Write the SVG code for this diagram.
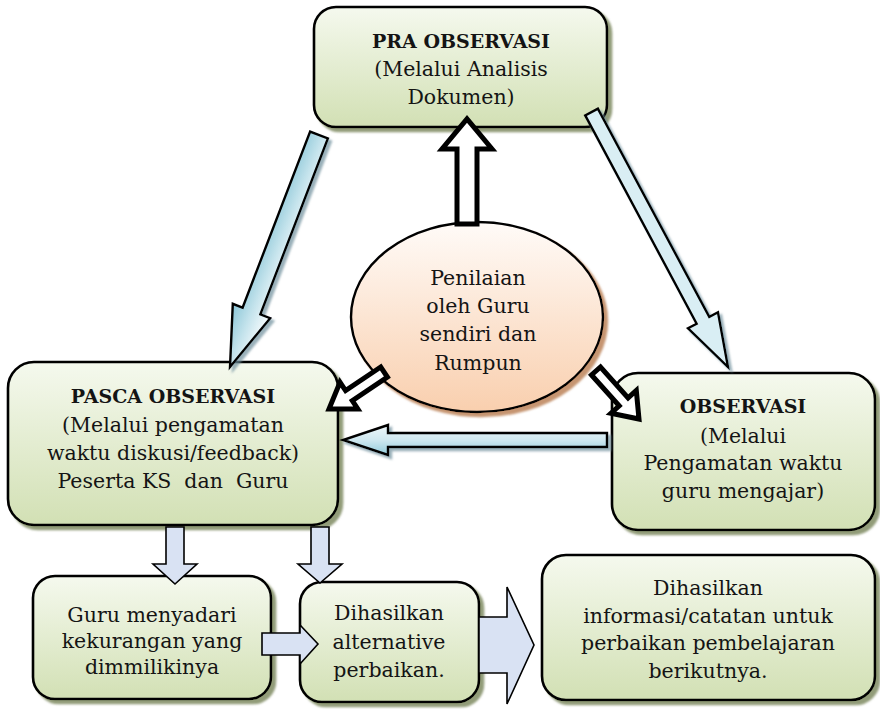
<svg xmlns="http://www.w3.org/2000/svg" width="880" height="712" viewBox="0 0 880 712">
  <defs>
    <linearGradient id="boxFill" x1="0" y1="0" x2="0" y2="1">
      <stop offset="0" stop-color="#f5f9ee"/>
      <stop offset="1" stop-color="#d2e0b4"/>
    </linearGradient>
    <linearGradient id="ovalFill" x1="0" y1="0" x2="0" y2="1">
      <stop offset="0" stop-color="#fffbf8"/>
      <stop offset="1" stop-color="#f9cfae"/>
    </linearGradient>
    <linearGradient id="blueLeft" gradientUnits="userSpaceOnUse" x1="256" y1="243" x2="293" y2="258">
      <stop offset="0" stop-color="#86c4d6"/>
      <stop offset="0.55" stop-color="#c4e3ec"/>
      <stop offset="1" stop-color="#f4fafc"/>
    </linearGradient>
    <linearGradient id="blueFlat" x1="0" y1="0" x2="0" y2="1">
      <stop offset="0" stop-color="#eef7fa"/>
      <stop offset="0.5" stop-color="#cfe8f0"/>
      <stop offset="1" stop-color="#92cbdb"/>
    </linearGradient>
    <filter id="boxShadow" x="-10%" y="-10%" width="125%" height="130%">
      <feGaussianBlur in="SourceAlpha" stdDeviation="1.2" result="b"/>
      <feOffset in="b" dx="4" dy="4" result="o"/>
      <feFlood flood-color="#7f8b62" flood-opacity="0.85"/>
      <feComposite in2="o" operator="in" result="s"/>
      <feMerge><feMergeNode in="s"/><feMergeNode in="SourceGraphic"/></feMerge>
    </filter>
    <filter id="ovalShadow" x="-10%" y="-10%" width="125%" height="130%">
      <feGaussianBlur in="SourceAlpha" stdDeviation="1.2" result="b"/>
      <feOffset in="b" dx="4" dy="4" result="o"/>
      <feFlood flood-color="#c08a62" flood-opacity="0.9"/>
      <feComposite in2="o" operator="in" result="s"/>
      <feMerge><feMergeNode in="s"/><feMergeNode in="SourceGraphic"/></feMerge>
    </filter>
    <filter id="arrowShadow" x="-20%" y="-20%" width="150%" height="150%">
      <feGaussianBlur in="SourceAlpha" stdDeviation="1" result="b"/>
      <feOffset in="b" dx="3" dy="3" result="o"/>
      <feFlood flood-color="#6f8f9c" flood-opacity="0.7"/>
      <feComposite in2="o" operator="in" result="s"/>
      <feMerge><feMergeNode in="s"/><feMergeNode in="SourceGraphic"/></feMerge>
    </filter>
  </defs>
  <style>
    .box { fill: url(#boxFill); stroke: #000; stroke-width: 2.6; filter: url(#boxShadow); }
    .oval { fill: url(#ovalFill); stroke: #000; stroke-width: 2.4; filter: url(#ovalShadow); }
    .hollow { fill: #fff; stroke: #000; stroke-width: 5; stroke-linejoin: miter; stroke-miterlimit: 10; }
    .blue { stroke: #000; stroke-width: 2.4; stroke-linejoin: miter; stroke-miterlimit: 10; filter: url(#arrowShadow); }
    .lav { fill: #d9e2f3; stroke: #000; stroke-width: 1.6; stroke-linejoin: miter; }
    text { font-family: "DejaVu Serif", "Liberation Serif", serif; font-size: 20.5px; fill: #141414; text-anchor: middle; }
    .title { font-weight: bold; font-size: 19px; }
  </style>

  <!-- nodes -->
  <g id="pra-observasi">
    <rect class="box" x="314" y="7" width="293" height="120" rx="22"/>
    <text x="461" y="48" class="title">PRA OBSERVASI</text>
    <text x="461" y="76">(Melalui Analisis</text>
    <text x="461" y="104">Dokumen)</text>
  </g>

  <g id="pasca-observasi">
    <rect class="box" x="8" y="362" width="330" height="163" rx="26"/>
    <text x="173" y="403" class="title">PASCA OBSERVASI</text>
    <text x="173" y="432">(Melalui pengamatan</text>
    <text x="173" y="460">waktu diskusi/feedback)</text>
    <text x="173" y="488" xml:space="preserve">Peserta KS  dan  Guru</text>
  </g>

  <g id="observasi">
    <rect class="box" x="612" y="373" width="263" height="157" rx="26"/>
    <text x="743" y="413" class="title">OBSERVASI</text>
    <text x="743" y="443">(Melalui</text>
    <text x="743" y="470">Pengamatan waktu</text>
    <text x="743" y="498">guru mengajar)</text>
  </g>

  <g id="guru-menyadari">
    <rect class="box" x="33" y="576" width="238" height="123" rx="22"/>
    <text x="152" y="622">Guru menyadari</text>
    <text x="152" y="648">kekurangan yang</text>
    <text x="152" y="674">dimmilikinya</text>
  </g>

  <g id="alternatif-perbaikan">
    <rect class="box" x="300" y="582" width="179" height="120" rx="22"/>
    <text x="389" y="620">Dihasilkan</text>
    <text x="389" y="649">alternative</text>
    <text x="389" y="677">perbaikan.</text>
  </g>

  <g id="informasi-catatan">
    <rect class="box" x="542" y="555" width="333" height="145" rx="24"/>
    <text x="708" y="595">Dihasilkan</text>
    <text x="708" y="623">informasi/catatan untuk</text>
    <text x="708" y="650">perbaikan pembelajaran</text>
    <text x="708" y="678">berikutnya.</text>
  </g>

  <g id="penilaian">
    <ellipse class="oval" cx="477" cy="317" rx="126" ry="95"/>
    <text x="478" y="285">Penilaian</text>
    <text x="478" y="313">oleh Guru</text>
    <text x="478" y="341">sendiri dan</text>
    <text x="478" y="370">Rumpun</text>
  </g>

  <!-- connectors -->
  <g id="connectors">
    <!-- cycle: pra -> pasca, pra -> observasi, observasi -> pasca -->
    <polygon class="blue" fill="url(#blueLeft)" points="310.1,131.6 242.6,307.6 232.8,303.8 230,367 270.2,318.2 260.4,314.4 327.9,138.4"/>
    <polygon class="blue" fill="#d9eef4" points="585.2,115.4 696.6,323.7 688,328.3 728,367 718,312.3 709.3,316.9 597.9,108.6"/>
    <polygon class="blue" fill="url(#blueFlat)" points="607,433 388,433 388,425 343,440 388,455 388,447 607,447"/>

    <!-- from the centre oval to each phase -->
    <polygon class="hollow" points="457,224 457,149 442,149 467,119 492,149 477,149 477,224"/>
    <polygon class="hollow" points="380.7,367 345.6,390.6 340,382.3 329,409 357.8,408.9 352.3,400.6 387.4,377"/>
    <polygon class="hollow" points="591.5,375 619.2,405.9 611,413.2 639,419 636.3,390.5 628.1,397.9 600.5,367"/>

    <!-- pasca -> results -->
    <polygon class="lav" points="166,527 184,527 184,564 197,564 175,584 153,564 166,564"/>
    <polygon class="lav" points="311,527 329,527 329,564 342,564 320,583 298,564 311,564"/>
    <polygon class="lav" points="262,633 300,633 300,625 318,644 300,664 300,655 262,655"/>
    <polygon class="lav" points="479,617 507,617 507,587 534,645 507,704 507,673 479,673"/>
  </g>
</svg>
